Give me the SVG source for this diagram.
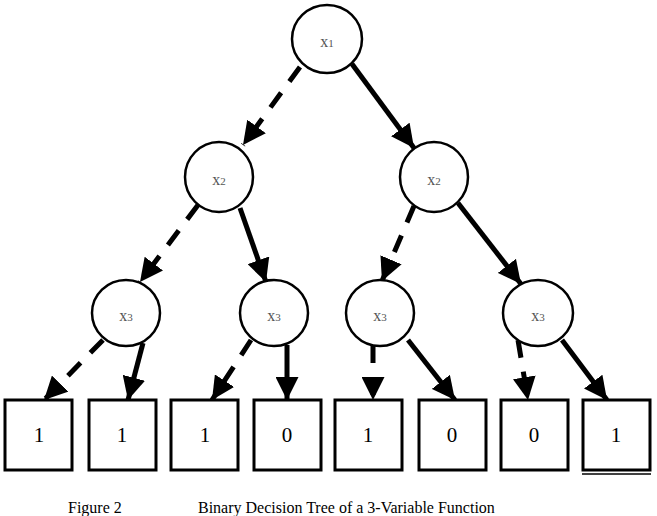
<svg xmlns="http://www.w3.org/2000/svg" width="657" height="516" viewBox="0 0 657 516">
<defs>
<marker id="ah" viewBox="0 0 10 10" refX="10" refY="5" markerWidth="4.6" markerHeight="4.6" orient="auto" markerUnits="strokeWidth"><path d="M0,0 L10,5 L0,10 z" fill="#000"/></marker>
<style>
.n{fill:#fff;stroke:#000;stroke-width:2.5}
.b{fill:#fff;stroke:#000;stroke-width:3}
.t{font-family:"Liberation Serif","DejaVu Serif",serif;font-size:16px;fill:#555;text-anchor:middle}
.t tspan{font-size:11px}
.v{font-family:"Liberation Serif","DejaVu Serif",serif;font-size:21px;fill:#000;text-anchor:middle}
.c{font-family:"Liberation Serif","DejaVu Serif",serif;font-size:16px;fill:#000}
.s{stroke:#000;stroke-width:5;fill:none;marker-end:url(#ah)}
.d{stroke:#000;stroke-width:5;fill:none;stroke-dasharray:18,14;marker-end:url(#ah)}
</style>
</defs>
<rect width="657" height="516" fill="#fff"/>
<g id="connectors">
<line class="d" x1="300" y1="67" x2="243" y2="145"/>
<line class="s" x1="352" y1="64" x2="414" y2="148"/>
<line class="d" x1="198" y1="205" x2="140" y2="282"/>
<line class="s" x1="240" y1="208" x2="266" y2="282"/>
<line class="d" x1="414" y1="206" x2="382" y2="281"/>
<line class="s" x1="458" y1="203" x2="521" y2="284"/>
<line class="d" x1="103" y1="340" x2="44" y2="400"/>
<line class="s" x1="143" y1="343" x2="128" y2="400"/>
<line class="d" x1="251" y1="340" x2="212" y2="400"/>
<line class="s" x1="287" y1="345" x2="287" y2="400"/>
<line class="d" x1="373" y1="345" x2="373" y2="400"/>
<line class="s" x1="408" y1="340" x2="455" y2="400"/>
<line class="d" x1="518" y1="340" x2="528" y2="400"/>
<line class="s" x1="562" y1="340" x2="607" y2="400"/>
</g>
<g id="n1"><ellipse class="n" cx="327" cy="39" rx="35" ry="34"/><text class="t" x="327" y="47">x<tspan>1</tspan></text></g>
<g id="n2"><ellipse class="n" cx="219" cy="177" rx="34" ry="35"/><text class="t" x="219" y="185">x<tspan>2</tspan></text></g>
<g id="n3"><ellipse class="n" cx="434" cy="177" rx="34" ry="35"/><text class="t" x="434" y="185">x<tspan>2</tspan></text></g>
<g id="n4"><ellipse class="n" cx="126" cy="313" rx="34" ry="33"/><text class="t" x="126" y="321">x<tspan>3</tspan></text></g>
<g id="n5"><ellipse class="n" cx="274" cy="313" rx="34" ry="33"/><text class="t" x="274" y="321">x<tspan>3</tspan></text></g>
<g id="n6"><ellipse class="n" cx="380" cy="313" rx="34" ry="33"/><text class="t" x="380" y="321">x<tspan>3</tspan></text></g>
<g id="n7"><ellipse class="n" cx="538" cy="313" rx="35" ry="33"/><text class="t" x="538" y="321">x<tspan>3</tspan></text></g>
<g id="l1"><rect class="b" x="5" y="400" width="67" height="70"/><text class="v" x="39" y="442">1</text></g>
<g id="l2"><rect class="b" x="89" y="400" width="67" height="70"/><text class="v" x="122" y="442">1</text></g>
<g id="l3"><rect class="b" x="171" y="400" width="67" height="70"/><text class="v" x="205" y="442">1</text></g>
<g id="l4"><rect class="b" x="254" y="400" width="67" height="70"/><text class="v" x="287" y="442">0</text></g>
<g id="l5"><rect class="b" x="335" y="400" width="67" height="70"/><text class="v" x="368" y="442">1</text></g>
<g id="l6"><rect class="b" x="419" y="400" width="67" height="70"/><text class="v" x="452" y="442">0</text></g>
<g id="l7"><rect class="b" x="501" y="400" width="67" height="70"/><text class="v" x="534" y="442">0</text></g>
<g id="l8"><rect class="b" x="583" y="400" width="67" height="70"/><text class="v" x="616" y="442">1</text><line x1="582" y1="474" x2="651" y2="474" stroke="#000" stroke-width="1.5"/></g>
<g id="caption"><text class="c" x="68" y="513">Figure 2</text><text class="c" x="198" y="513">Binary Decision Tree of a 3-Variable Function</text></g>
</svg>
